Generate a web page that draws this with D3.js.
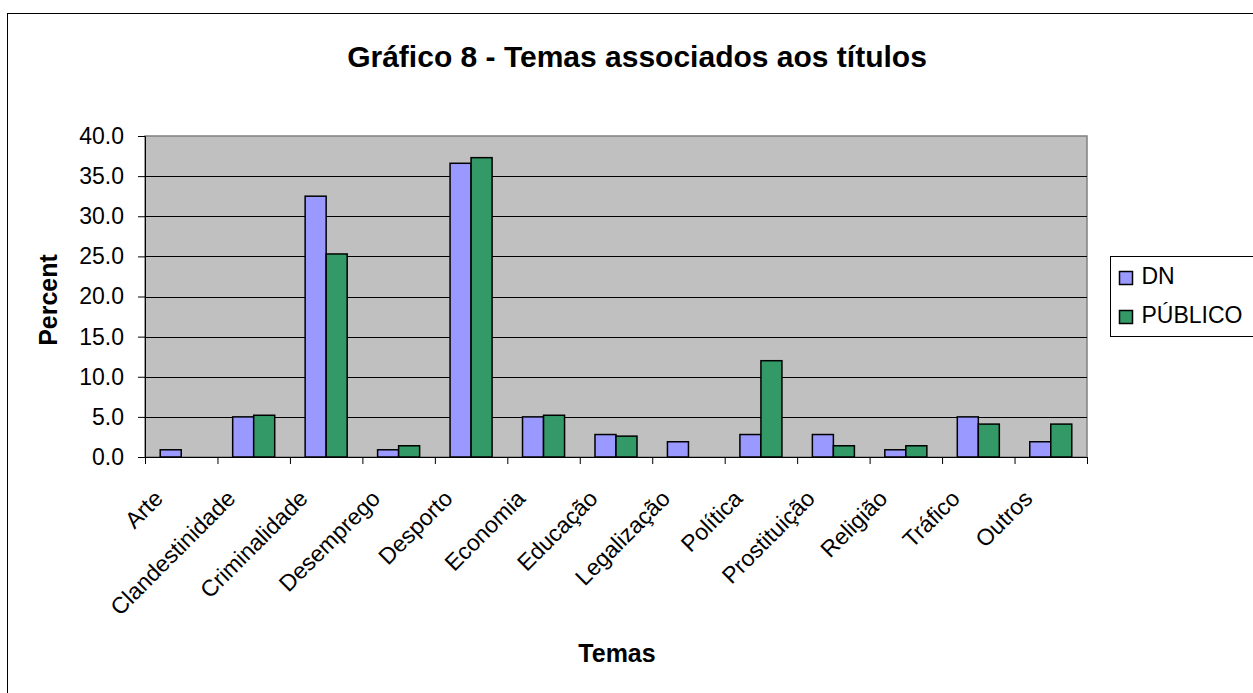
<!DOCTYPE html>
<html>
<head>
<meta charset="utf-8">
<script src="https://cdn.jsdelivr.net/npm/d3@7"></script>
<style>
  body { margin: 0; background: #fff; }
  svg { font-family: "Liberation Sans", Arial, sans-serif; }
</style>
</head>
<body>
<div class="chart"></div>
<script>
var categories = ["Arte", "Clandestinidade", "Criminalidade", "Desemprego", "Desporto", "Economia",
  "Educação", "Legalização", "Política", "Prostituição", "Religião", "Tráfico", "Outros"];
var seriesNames = ["DN", "PÚBLICO"];
var dnValues = [0.9, 5.0, 32.5, 0.9, 36.6, 5.0, 2.8, 1.9, 2.8, 2.8, 0.9, 5.0, 1.9];
var publicoValues = [0, 5.2, 25.3, 1.4, 37.3, 5.2, 2.6, 0, 12.0, 1.4, 1.4, 4.1, 4.1];
var yTicks = [0, 5, 10, 15, 20, 25, 30, 35, 40];
var colors = ["#9999FF", "#339966"];

var svgWidth = 1253;
var svgHeight = 693;
var margin = { top: 136, right: 166, bottom: 236, left: 145 };
var width = svgWidth - margin.left - margin.right;
var height = svgHeight - margin.top - margin.bottom;

var svg = d3.select(".chart")
  .append("svg")
  .attr("width", svgWidth)
  .attr("height", svgHeight);

// outer chart border (right and bottom edges fall outside the picture)
svg.append("rect")
  .attr("x", 7.5).attr("y", 13.5)
  .attr("width", 1260).attr("height", 700)
  .attr("fill", "none")
  .attr("stroke", "#000");

svg.append("text")
  .attr("x", 637).attr("y", 67)
  .attr("text-anchor", "middle")
  .attr("font-size", "30px")
  .attr("font-weight", "bold")
  .text("Gráfico 8 - Temas associados aos títulos");

var chartGroup = svg.append("g")
  .attr("transform", `translate(${margin.left}, ${margin.top})`);

var x0 = d3.scaleBand().domain(categories).range([0, width]).paddingInner(0.42).paddingOuter(0.21);
var x1 = d3.scaleBand().domain(seriesNames).range([0, x0.bandwidth()]);
var y = d3.scaleLinear().domain([0, 40]).range([height, 0]);
var xTicksScale = d3.scaleLinear().domain([0, categories.length]).range([0, width]);

chartGroup.append("rect")
  .attr("width", width).attr("height", height)
  .attr("fill", "#C0C0C0")
  .attr("stroke", "#808080")
  .attr("stroke-width", 1.5);

chartGroup.selectAll(".grid")
  .data(yTicks.filter(d => d > 0 && d < 40))
  .enter().append("line")
  .attr("x1", 0).attr("x2", width)
  .attr("y1", d => Math.round(y(d)) + 0.5).attr("y2", d => Math.round(y(d)) + 0.5)
  .attr("stroke", "#000");

var rows = categories.map((c, i) => ({ cat: c, vals: [dnValues[i], publicoValues[i]] }));

var groups = chartGroup.selectAll(".grp")
  .data(rows)
  .enter().append("g")
  .attr("transform", d => `translate(${x0(d.cat)},0)`);

groups.selectAll("rect")
  .data(d => d.vals.map((v, k) => ({ key: seriesNames[k], v: v, k: k })).filter(e => e.v > 0))
  .enter().append("rect")
  .attr("x", d => x1(d.key))
  .attr("y", d => y(d.v))
  .attr("width", x1.bandwidth())
  .attr("height", d => height - y(d.v))
  .attr("fill", d => colors[d.k])
  .attr("stroke", "#000")
  .attr("stroke-width", 1.5);

// y axis
var leftAxis = d3.axisLeft(y).tickValues(yTicks).tickFormat(d3.format(".1f")).tickSize(7).tickPadding(14);
var gy = chartGroup.append("g").call(leftAxis);
gy.select(".domain").attr("stroke", "#000");
gy.selectAll("text").attr("font-size", "23px").attr("fill", "#000")
  .attr("font-family", "Liberation Sans, Arial, sans-serif");

// x axis
var bottomAxis = d3.axisBottom(xTicksScale).tickValues(d3.range(categories.length + 1)).tickSize(7).tickFormat("");
var gx = chartGroup.append("g")
  .attr("transform", `translate(0, ${height})`)
  .call(bottomAxis);
gx.select(".domain").attr("stroke", "#000");

chartGroup.selectAll(".xlab")
  .data(categories)
  .enter().append("text")
  .attr("transform", (d, i) => `translate(${xTicksScale(i + 0.5) - 17}, ${height + 43}) rotate(-45)`)
  .attr("text-anchor", "end")
  .attr("font-size", "23px")
  .text(d => d);

chartGroup.append("text")
  .attr("x", 617 - margin.left).attr("y", 662 - margin.top)
  .attr("text-anchor", "middle")
  .attr("font-size", "25px")
  .attr("font-weight", "bold")
  .text("Temas");

chartGroup.append("text")
  .attr("transform", `translate(${57 - margin.left}, ${300 - margin.top}) rotate(-90)`)
  .attr("text-anchor", "middle")
  .attr("font-size", "25px")
  .attr("font-weight", "bold")
  .text("Percent");

// legend
var legend = svg.append("g").attr("transform", "translate(1110.5, 256.5)");
legend.append("rect")
  .attr("width", 160).attr("height", 80)
  .attr("fill", "#fff").attr("stroke", "#000");
var items = legend.selectAll(".item")
  .data(seriesNames)
  .enter().append("g")
  .attr("transform", (d, i) => `translate(9, ${15 + i * 39})`);
items.append("rect")
  .attr("width", 13).attr("height", 13)
  .attr("fill", (d, i) => colors[i])
  .attr("stroke", "#000").attr("stroke-width", 1.5);
items.append("text")
  .attr("x", 22).attr("y", 12)
  .attr("font-size", "23px")
  .text(d => d);
</script>
</body>
</html>
